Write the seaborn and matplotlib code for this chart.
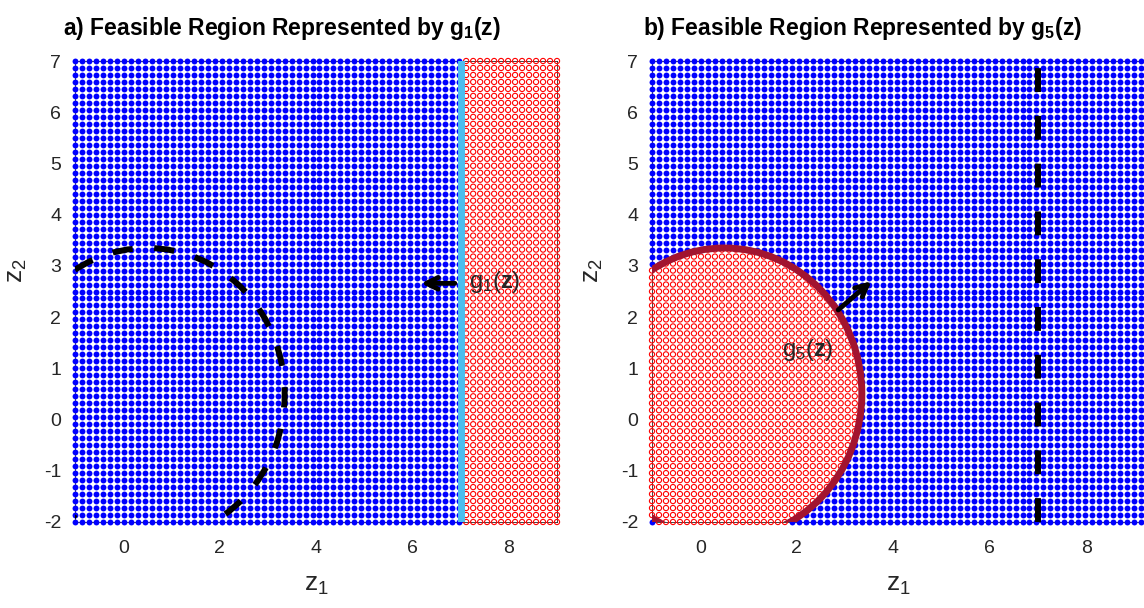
import numpy as np
import pandas as pd
import matplotlib
matplotlib.use("Agg")
import matplotlib.pyplot as plt
import matplotlib.patches as mpatches
import seaborn as sns

# sampling grid (range + number of dots)
X_MIN, X_MAX = -1.0, 9.0
N_X = 70
X_EXTRA_B = 1            # panel b shows one more column on the right
Y_MIN, Y_MAX = -2.0, 7.0
N_Y = 67

# constraint boundaries
G1_LIMIT = 7.0                 # g1: z1 <= 7
G5_CENTER = (0.5, 0.5)         # g5: circle, infeasible inside
G5_RADIUS = 2.85

X_TICKS = [0, 2, 4, 6, 8]
Y_TICKS = [-2, -1, 0, 1, 2, 3, 4, 5, 6, 7]

TITLES = ["a) Feasible Region Represented by g$_1$(z)",
          "b) Feasible Region Represented by g$_5$(z)"]
ARROW_A = ((6.88, 2.66), (6.18, 2.66))   # start, end
ARROW_B = ((2.86, 2.14), (3.55, 2.70))
LABEL_A = (7.17, 2.68, r"g$_1$($\mathbf{z}$)")
LABEL_B = (1.70, 1.35, r"g$_5$($\mathbf{z}$)")

BLUE = "#0000FF"
RED = "#FF0000"
LIGHTBLUE = "#4DBEEE"
CRIMSON = "#A2142F"
TXT = "#262626"

sns.set_theme(style="white")
plt.rcParams["font.family"] = ["Liberation Sans", "DejaVu Sans"]
plt.rcParams["axes.unicode_minus"] = False
plt.rcParams["mathtext.default"] = "regular"
plt.rcParams["mathtext.fontset"] = "custom"
plt.rcParams["mathtext.rm"] = "Liberation Sans"
plt.rcParams["mathtext.bf"] = "Liberation Sans:bold"


def make_grid(extra_cols):
    step = (X_MAX - X_MIN) / (N_X - 1)
    xs = X_MIN + step * np.arange(N_X + extra_cols)
    ys = np.linspace(Y_MIN, Y_MAX, N_Y)
    gx, gy = np.meshgrid(xs, ys)
    return pd.DataFrame({"z1": gx.ravel(), "z2": gy.ravel()})


df_a = make_grid(0)
df_a["feasible"] = df_a["z1"] <= G1_LIMIT
df_b = make_grid(X_EXTRA_B)
df_b["feasible"] = ((df_b["z1"] - G5_CENTER[0]) ** 2
                    + (df_b["z2"] - G5_CENTER[1]) ** 2) >= G5_RADIUS ** 2

fig = plt.figure(figsize=(11.44, 6.08), dpi=100)
ax_a = fig.add_axes([75 / 1144, 1 - 522 / 608, 482 / 1144, 461 / 608])
ax_b = fig.add_axes([652 / 1144, 1 - 522 / 608, 492 / 1144, 461 / 608])


def draw_points(ax, df):
    feas = df[df["feasible"]]
    infeas = df[~df["feasible"]]
    sns.scatterplot(data=feas, x="z1", y="z2", ax=ax, color=BLUE, s=18,
                    linewidth=0, clip_on=False, zorder=1, legend=False)
    sns.scatterplot(data=infeas, x="z1", y="z2", ax=ax, facecolor="none",
                    edgecolor=RED, color=RED, s=14, linewidth=0.8,
                    clip_on=False, zorder=1, legend=False)


def style_axes(ax, x_max, title, title_x):
    ax.set_xlim(X_MIN, x_max)
    ax.set_ylim(Y_MIN, Y_MAX)
    ax.set_xticks(X_TICKS)
    ax.set_yticks(Y_TICKS)
    ax.tick_params(direction="in", length=4, width=0.6, colors=TXT,
                   labelsize=14, labelcolor=TXT)
    ax.tick_params(axis="y", pad=10)
    ax.tick_params(axis="x", pad=13)
    for sp in ax.spines.values():
        sp.set_color(TXT)
        sp.set_linewidth(0.6)
        sp.set_zorder(0.5)
    ax.set_xlabel("z$_1$", fontsize=19, color=TXT)
    ax.set_ylabel("z$_2$", fontsize=19, color=TXT)
    ax.xaxis.set_label_coords(0.5, -0.11)
    ax.yaxis.set_label_coords(-0.095, 0.545)
    fig.text(title_x, 1 - 35 / 608, title, fontsize=16.5, fontweight="bold",
             color="black", ha="left", va="baseline")


# panel a
draw_points(ax_a, df_a)
ax_a.axvline(G1_LIMIT, color=LIGHTBLUE, lw=5, zorder=2)
circ_a = mpatches.Circle(G5_CENTER, G5_RADIUS, fill=False, edgecolor="black",
                         lw=4.3, linestyle=(0, (3.4, 3.6)), zorder=3)
circ_a.set_capstyle("butt")
ax_a.add_patch(circ_a)
ax_a.annotate("", xy=ARROW_A[1], xytext=ARROW_A[0],
              arrowprops=dict(arrowstyle="->,head_length=0.7,head_width=0.35",
                              color="black", lw=3.5, shrinkA=0, shrinkB=0),
              zorder=4)
ax_a.text(LABEL_A[0], LABEL_A[1], LABEL_A[2], fontsize=17, color=TXT,
          ha="left", va="center", zorder=5)
style_axes(ax_a, X_MAX, TITLES[0], 63 / 1144)

# panel b
draw_points(ax_b, df_b)
ax_b.axvline(G1_LIMIT, color="black", lw=4.3, linestyle=(0, (4.0, 4.0)),
             solid_capstyle="butt", dash_capstyle="butt", zorder=2)
circ_b = mpatches.Circle(G5_CENTER, G5_RADIUS, fill=False, edgecolor=CRIMSON,
                         lw=5, zorder=3)
ax_b.add_patch(circ_b)
ax_b.annotate("", xy=ARROW_B[1], xytext=ARROW_B[0],
              arrowprops=dict(arrowstyle="->,head_length=0.7,head_width=0.35",
                              color="black", lw=3.5, shrinkA=0, shrinkB=0),
              zorder=4)
ax_b.text(LABEL_B[0], LABEL_B[1], LABEL_B[2], fontsize=17, color=TXT,
          ha="left", va="center", zorder=5)
style_axes(ax_b, X_MAX + 0.2, TITLES[1], 643 / 1144)

fig.savefig("out.png", dpi=100)
